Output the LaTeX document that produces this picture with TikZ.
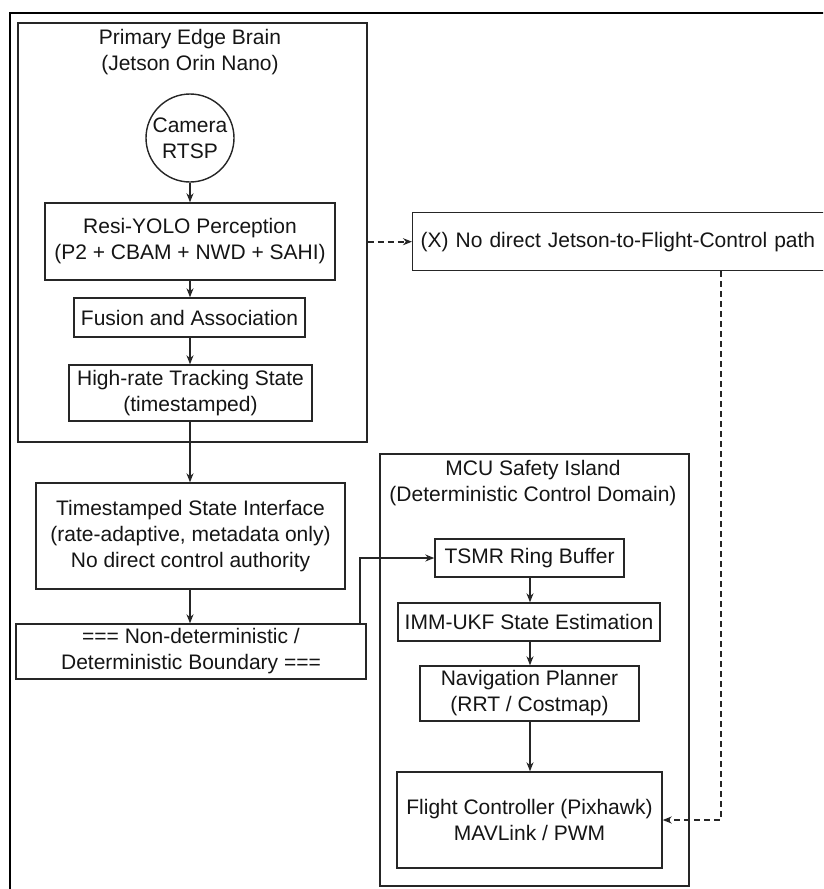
\documentclass[tikz,border=0pt]{standalone}
\usepackage{fontspec}
\setmainfont{Liberation Sans}
\usetikzlibrary{arrows.meta}
\definecolor{ln}{HTML}{262626}
\definecolor{tx}{HTML}{151515}
\begin{document}
\begin{tikzpicture}[x=1pt,y=-1pt,
  font=\fontsize{21}{26}\selectfont,
  box/.style={draw=ln, line width=1.4pt, inner sep=0pt, align=center, text=tx},
  cont/.style={draw=ln, line width=1.4pt, inner sep=0pt},
  ttl/.style={align=center, text=tx, inner sep=0pt},
  arr/.style={draw=ln, line width=1.3pt, -{Stealth[length=9pt,width=7pt]}},
  darr/.style={draw=ln, line width=2pt, dash pattern=on 6pt off 4pt, -{Stealth[length=9pt,width=7pt]}}]
\useasboundingbox (0,0) rectangle (823,889);
\clip (0,0) rectangle (823,889);
\fill[white] (0,0) rectangle (823,889);
\draw[line width=2.2pt, black] (10,13) rectangle (900,1000);

% Primary Edge Brain container
\node[cont, minimum width=349pt, minimum height=419pt] (prim) at (192.5,232.5) {};
\node[ttl] (primttl) at (190,52) {Primary Edge Brain\\(Jetson Orin Nano)};
\node[box, circle, minimum size=88pt] (cam) at (190,138) {Camera\\RTSP};
\node[box, minimum width=290pt, minimum height=77pt] (yolo) at (190,241.5) {Resi-YOLO Perception\\(P2 + CBAM + NWD + SAHI)};
\node[box, minimum width=231pt, minimum height=39pt] (fus) at (189.5,317.5) {Fusion and Association};
\node[box, minimum width=243pt, minimum height=56pt] (hr) at (190.5,393) {High-rate Tracking State\\(timestamped)};

% Interface + boundary
\node[box, minimum width=309pt, minimum height=106pt] (tsi) at (190.5,536) {Timestamped State Interface\\(rate-adaptive, metadata only)\\No direct control authority};
\node[box, minimum width=350pt, minimum height=55pt] (bnd) at (191,651.5) {=== Non-deterministic /\\Deterministic Boundary ===};

% X box
\node[box, anchor=north west, minimum height=58pt, text width=602pt, inner xsep=8pt, align=left] (xbox) at (412,212) {(X) No direct Jetson-to-Flight-Control path};

% MCU Safety Island
\node[cont, minimum width=309pt, minimum height=432pt] (mcu) at (534.5,670) {};
\node[ttl] (mcuttl) at (533,483) {MCU Safety Island\\(Deterministic Control Domain)};
\node[box, minimum width=189pt, minimum height=38pt] (tsmr) at (529.5,558) {TSMR Ring Buffer};
\node[box, minimum width=262pt, minimum height=38pt] (imm) at (529,622) {IMM-UKF State Estimation};
\node[box, minimum width=219pt, minimum height=55pt] (nav) at (529.5,693.5) {Navigation Planner\\(RRT / Costmap)};
\node[box, minimum width=265pt, minimum height=96pt] (fc) at (529.5,820) {Flight Controller (Pixhawk)\\MAVLink / PWM};

% connectors
\coordinate (bx) at (360,0);
\coordinate (dx) at (721,0);
\coordinate (lx) at (190,0);
\coordinate (rx) at (530,0);
\draw[arr] (cam.south) -- (yolo.north -| cam.south);
\draw[arr] (yolo.south -| lx) -- (fus.north -| lx);
\draw[arr] (fus.south -| lx) -- (hr.north -| lx);
\draw[arr] (hr.south -| lx) -- (tsi.north -| lx);
\draw[arr] (tsi.south -| lx) -- (bnd.north -| lx);
\draw[arr] (bnd.north -| bx) |- (tsmr.west);
\draw[arr] (tsmr.south -| rx) -- (imm.north -| rx);
\draw[arr] (imm.south -| rx) -- (nav.north -| rx);
\draw[arr] (nav.south -| rx) -- (fc.north -| rx);
\draw[darr] (prim.east |- xbox.west) -- (xbox.west);
\draw[darr] (xbox.south -| dx) |- (fc.east);
\end{tikzpicture}
\end{document}
